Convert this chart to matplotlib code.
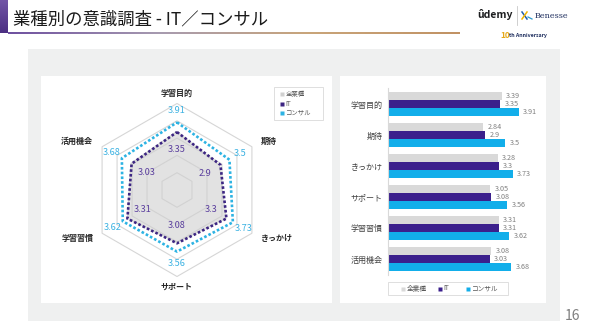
import numpy as np
import matplotlib.pyplot as plt
from matplotlib.patches import Rectangle, Polygon
from matplotlib.colors import LinearSegmentedColormap

plt.rcParams['font.family'] = ['Noto Sans CJK JP', 'DejaVu Sans']

categories = ['学習目的', '期待', 'きっかけ', 'サポート', '学習習慣', '活用機会']
series_names = ['全業種', 'IT', 'コンサル']
all_ind = [3.39, 2.84, 3.28, 3.05, 3.31, 3.08]
it = [3.35, 2.9, 3.3, 3.08, 3.31, 3.03]
consul = [3.91, 3.5, 3.73, 3.56, 3.62, 3.68]

W, H = 590, 329
GRAY = '#d9d9d9'
PURPLE = '#3b1f8c'
CYAN = '#12aeea'
IT_LINE = '#3c2582'
CON_LINE = '#2db3e3'
IT_TXT = '#5b3f9e'
CON_TXT = '#3cb2e2'

fig = plt.figure(figsize=(W / 100, H / 100), dpi=100)


def box(x0, y0, x1, y1):
    return [x0 / W, 1 - y1 / H, (x1 - x0) / W, (y1 - y0) / H]


# background / slide frame
bg = fig.add_axes([0, 0, 1, 1])
bg.axis('off')
bg.add_patch(Rectangle((28, 49), 532, 272, color='#eff0f0', lw=0))
bg.add_patch(Rectangle((41, 76), 291, 227, color='white', lw=0))
bg.add_patch(Rectangle((340, 76), 206, 227, color='white', lw=0))

side = LinearSegmentedColormap.from_list('side', ['#7255a6', '#4b2f82'])
bg.imshow(np.linspace(0, 1, 50)[:, None], cmap=side, extent=(0, 8, 33, 0), aspect='auto')
under = LinearSegmentedColormap.from_list('under', ['#6f51a0', '#a79bb0', '#c9a57a', '#c19264'])
bg.imshow(np.linspace(0, 1, 200)[None, :], cmap=under, extent=(8, 460, 34.2, 32.6), aspect='auto')
bg.set_xlim(0, W)
bg.set_ylim(H, 0)

bg.text(13, 19, '業種別の意識調査 - IT／コンサル', fontsize=12.5, va='center', color='#1a1a1a')

# logos
bg.text(477, 15, 'ûdemy', fontsize=7.5, fontweight='bold', color='#1c1d1f', va='center')
bg.plot([517, 517], [6, 25], color='#c8c8c8', lw=0.6)
bg.plot([522, 527], [12, 19], color='#1f5fb0', lw=1.1)
bg.plot([522, 527], [19, 12], color='#f0b400', lw=1.1)
bg.plot([528, 532], [17, 19], color='#2a9ad0', lw=0.9)
bg.text(535, 15.5, 'Benesse', fontsize=5.8, family='DejaVu Serif', color='#1f2f5f', va='center')
bg.text(500, 35, '10', fontsize=6, fontweight='bold', color='#e6a817', va='center')
bg.text(509, 35.5, 'th Anniversary', fontsize=3.8, fontweight='bold', color='#1f2f5f', va='center')

bg.text(572, 316, '16', fontsize=10, color='#7f7f7f', ha='center', va='center')

# radar chart
ax = fig.add_axes(box(41, 76, 332, 303))
cx, cy, s = 177, 190, 17.3
ax.set_xlim(-(cx - 41) / s, (332 - cx) / s)
ax.set_ylim(-(303 - cy) / s, (cy - 76) / s)
ax.axis('off')

theta = np.arange(len(categories)) * np.pi / 3


def xy(r):
    r = np.asarray(r, dtype=float)
    return r * np.sin(theta), r * np.cos(theta)


for ring in range(1, 6):
    x, y = xy([ring] * 6)
    ax.add_patch(Polygon(np.c_[x, y], closed=True, fill=False, ec='#d6d6d6', lw=0.8))

x, y = xy(all_ind)
ax.add_patch(Polygon(np.c_[x, y], closed=True, fc='#cfcfcf', alpha=0.6, ec='#c4c4c4', lw=0.8))

for vals, c in ((it, IT_LINE), (consul, CON_LINE)):
    x, y = xy(vals)
    ax.plot(np.r_[x, x[0]], np.r_[y, y[0]], color=c, lw=1.9, ls=(0, (1, 0.8)),
            dash_capstyle='butt')

for i, cat in enumerate(categories):
    sx, sy = np.sin(theta[i]), np.cos(theta[i])
    ha = 'center' if abs(sx) < 0.1 else ('left' if sx > 0 else 'right')
    ax.text(5.6 * sx, 5.6 * sy, cat, fontsize=5.8, fontweight='bold', color='#262626',
            ha=ha, va='center')
    ax.text((it[i] - 1.0) * sx, (it[i] - 1.0) * sy, f'{it[i]:g}', fontsize=6.6,
            color=IT_TXT, ha='center', va='center')
    ax.text((consul[i] + 0.7) * sx, (consul[i] + 0.7) * sy, f'{consul[i]:g}', fontsize=6.6,
            color=CON_TXT, ha='center', va='center')

# radar legend
bg.add_patch(Rectangle((274, 87), 49, 33, fill=False, ec='#d9d9d9', lw=0.6))
for name, c, yy in zip(series_names, ['#d0d0d0', IT_LINE, CON_LINE], [94, 103.5, 113]):
    bg.plot(282, yy, marker='s', ms=2.2, color=c, mec='none')
    bg.text(285.5, yy, name, fontsize=4.6, color='#595959', va='center')

# bar chart
bx = fig.add_axes(box(388, 88, 539, 275))
pos = np.arange(len(categories))
h = 0.26
for off, vals, c in ((-h, all_ind, GRAY), (0, it, PURPLE), (h, consul, CYAN)):
    bx.barh(pos + off, vals, h, color=c)
    for p, v in zip(pos, vals):
        bx.text(v + 0.12, p + off, f'{v:g}', fontsize=5.2, color='#7f7f7f', va='center')
bx.set_xlim(0, 4.5)
bx.set_ylim(5.52, -0.52)
bx.set_facecolor('none')
for sp in ['top', 'right', 'bottom']:
    bx.spines[sp].set_visible(False)
bx.spines['left'].set_color('#d9d9d9')
bx.spines['left'].set_linewidth(0.8)
bx.set_xticks([])
bx.set_yticks(pos)
bx.set_yticklabels(categories, fontsize=5.8, color='#404040')
bx.tick_params(axis='y', length=0, pad=4)

# bar legend
bg.add_patch(Rectangle((388, 282), 120, 13, fill=False, ec='#d9d9d9', lw=0.6))
for name, c, xx in zip(series_names, [GRAY, PURPLE, CYAN], [403, 440, 468]):
    bg.plot(xx, 288.5, marker='s', ms=2.2, color=c, mec='none')
    bg.text(xx + 3.5, 288.5, name, fontsize=4.8, color='#595959', va='center')

fig.savefig('out.png', dpi=100)
